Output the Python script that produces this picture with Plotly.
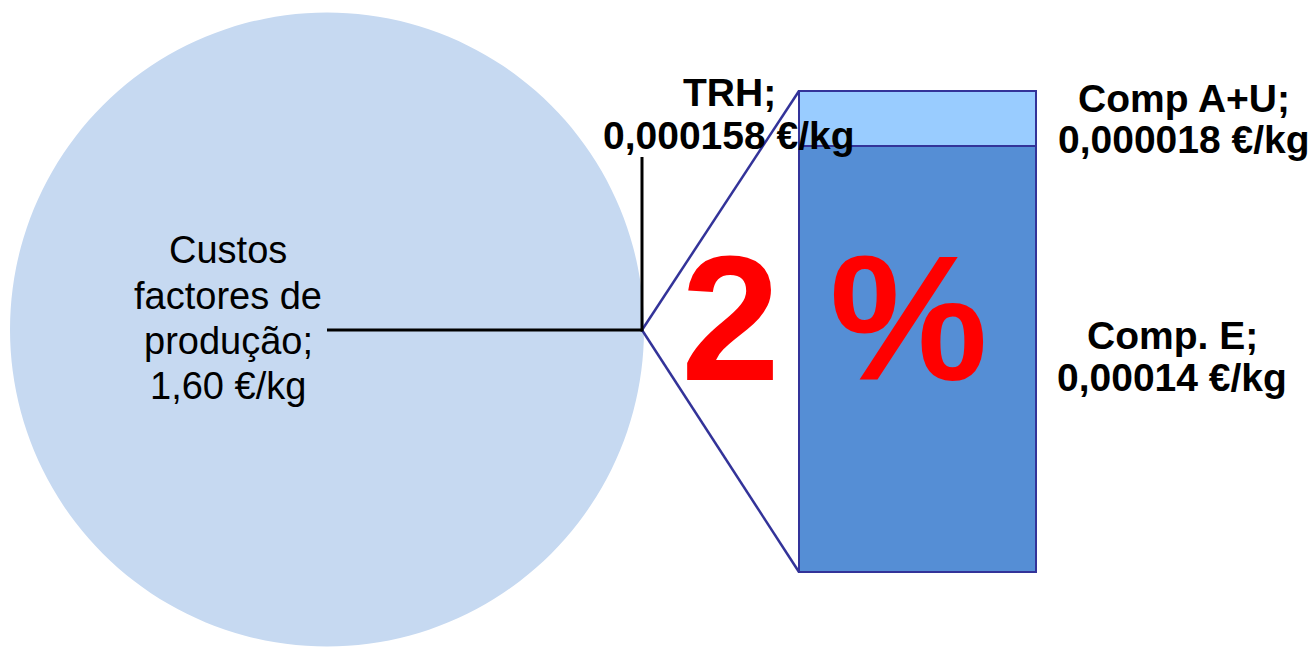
import plotly.graph_objects as go

W, H = 1316, 648

# ---- data ----
pie_labels = ["Custos factores de produção", "TRH"]
pie_values = [1.60, 0.000158]
pie_value_text = ["1,60 €/kg", "0,000158 €/kg"]

bar_labels = ["Comp. E", "Comp A+U"]
bar_values = [0.00014, 0.000018]
bar_value_text = ["0,00014 €/kg", "0,000018 €/kg"]

share_text = "2 %"

# ---- layout helpers (pixel -> paper) ----
def px(x):
    return x / W

def py(y):
    return 1 - y / H

cx, cy, r = 327, 329.5, 317
bar_l, bar_r, bar_t, bar_b = 799, 1036, 91, 572
pad = 5

fig = go.Figure()

fig.add_trace(go.Pie(
    labels=pie_labels,
    values=pie_values,
    sort=False,
    direction="clockwise",
    rotation=90,
    marker=dict(colors=["#C6D9F1", "#C6D9F1"], line=dict(width=0)),
    textinfo="none",
    showlegend=False,
    domain=dict(x=[px(cx - r), px(cx + r)], y=[py(cy + r), py(cy - r)]),
))

bar_colors = ["#558ED5", "#99CCFF"]
for lab, val, col in zip(bar_labels, bar_values, bar_colors):
    fig.add_trace(go.Bar(
        x=["TRH"], y=[val], name=lab,
        marker=dict(color=col, line=dict(color="#333399", width=2.5)),
        showlegend=False, width=1,
    ))

total_bar = sum(bar_values)
xpad = pad / (bar_r - bar_l)
ypad = pad * total_bar / (bar_b - bar_t)
fig.update_layout(
    width=W, height=H,
    margin=dict(l=0, r=0, t=0, b=0),
    paper_bgcolor="white", plot_bgcolor="rgba(0,0,0,0)",
    barmode="stack", bargap=0,
    xaxis=dict(domain=[px(bar_l - pad), px(bar_r + pad)],
               range=[-0.5 - xpad, 0.5 + xpad],
               visible=False, fixedrange=True),
    yaxis=dict(domain=[py(bar_b + pad), py(bar_t - pad)],
               range=[-ypad, total_bar + ypad],
               visible=False, fixedrange=True),
    font=dict(family="Liberation Sans, Arial, sans-serif", color="black"),
)

# connector lines pie -> bar
apex = (cx + r - 2, 330)
for yy in (bar_t, bar_b):
    fig.add_shape(type="line", xref="paper", yref="paper",
                  x0=px(apex[0]), y0=py(apex[1]), x1=px(bar_l), y1=py(yy),
                  line=dict(color="#333399", width=2.5))

# leader line for TRH
fig.add_shape(type="line", xref="paper", yref="paper",
              x0=px(cx), y0=py(330), x1=px(642), y1=py(330),
              line=dict(color="black", width=3))
fig.add_shape(type="line", xref="paper", yref="paper",
              x0=px(642), y0=py(331.5), x1=px(642), y1=py(157),
              line=dict(color="black", width=3))

def add_lines(lines, xc, baselines, size, bold=False, color="black"):
    for t, b in zip(lines, baselines):
        txt = f"<b>{t}</b>" if bold else t
        fig.add_annotation(xref="paper", yref="paper",
                           x=px(xc), y=py(b - 0.36 * size),
                           text=txt, showarrow=False,
                           xanchor="center", yanchor="middle",
                           font=dict(size=size, color=color))

# pie label (split over lines)
w = pie_labels[0].split(" ")
pie_lines = [w[0], " ".join(w[1:3]), w[3] + ";", pie_value_text[0]]
add_lines(pie_lines, 228, [264, 309.5, 355, 400], 38)

# TRH label
add_lines([pie_labels[1] + ";", pie_value_text[1]], 729, [107, 150], 39, bold=True)

# Comp A+U label
add_lines([bar_labels[1] + ";", bar_value_text[1]], 1184, [113, 154], 39, bold=True)

# Comp E label
add_lines([bar_labels[0] + ";", bar_value_text[0]], 1172, [350, 392], 39, bold=True)

# big share text
fig.add_annotation(xref="paper", yref="paper", x=px(834), y=py(383 - 0.36 * 178),
                   text=f"<b>{share_text}</b>", showarrow=False,
                   xanchor="center", yanchor="middle",
                   font=dict(size=178, color="#FF0000"))

fig.write_html("out.html",
               config={"displayModeBar": False, "staticPlot": True},
               post_script="document.body.style.margin='0px';document.body.style.overflow='hidden';")
